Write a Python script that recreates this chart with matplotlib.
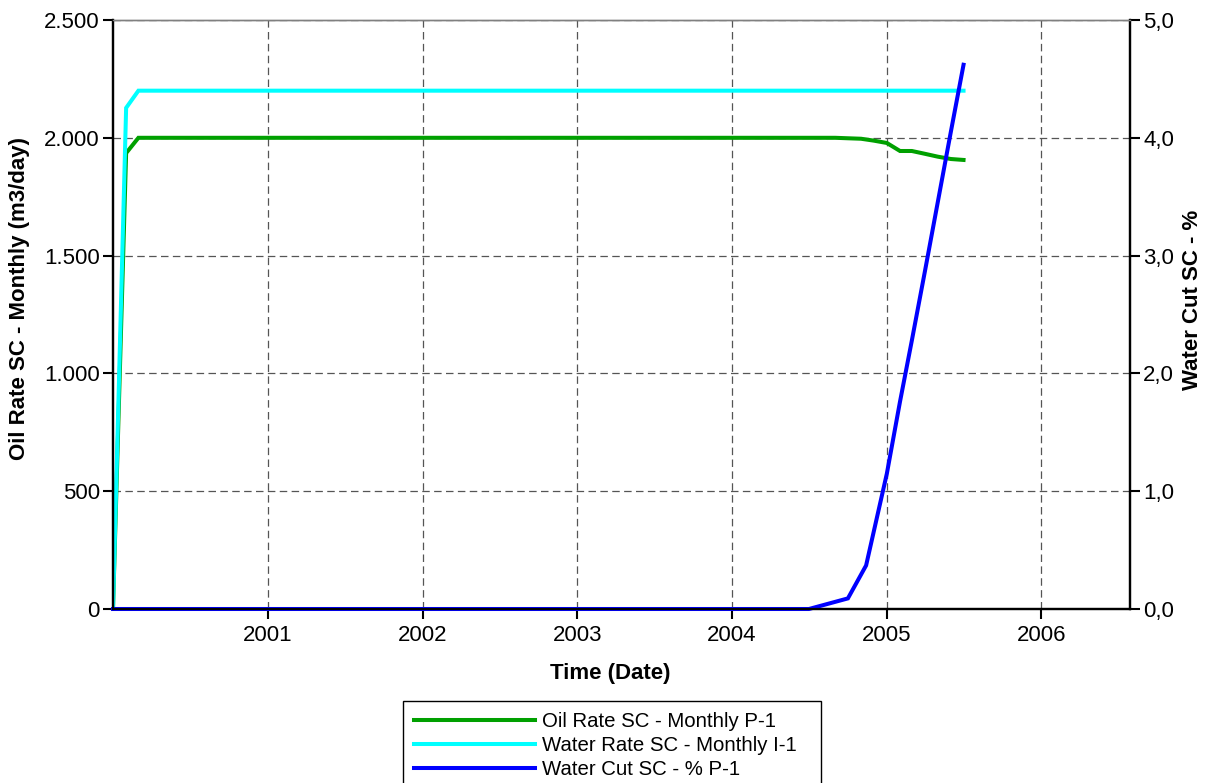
import numpy as np
import matplotlib
matplotlib.use("Agg")
import matplotlib.pyplot as plt
import matplotlib.dates as mdates
from matplotlib.ticker import FixedLocator, FuncFormatter

plt.rcParams['font.family'] = ['Liberation Sans', 'DejaVu Sans']

# Oil production rate of well P-1 (m3/day)
oil_dates = np.array(['2000-01-01', '2000-02-01', '2000-03-01', '2004-09-01',
                      '2004-10-01', '2004-11-01', '2004-12-01', '2005-01-01',
                      '2005-02-01', '2005-03-01', '2005-04-01', '2005-05-01',
                      '2005-06-01', '2005-07-01'], dtype='datetime64[D]')
oil_rate = [0, 1935, 2000, 2000, 1998, 1996, 1988, 1978,
            1944, 1944, 1932, 1920, 1910, 1906]

# Water injection rate of well I-1 (m3/day)
water_dates = np.array(['2000-01-01', '2000-02-01', '2000-03-01', '2005-07-01'],
                       dtype='datetime64[D]')
water_rate = [0, 2127, 2200, 2200]

# Water cut of well P-1 (%)
wcut_dates = np.array(['2000-01-01', '2004-07-01', '2004-10-01', '2004-11-13',
                       '2005-01-01', '2005-02-01', '2005-03-01', '2005-04-01',
                       '2005-05-01', '2005-06-01', '2005-07-01'],
                      dtype='datetime64[D]')
water_cut = [0.0, 0.0, 0.09, 0.37, 1.15, 1.76, 2.28, 2.87, 3.45, 4.05, 4.62]

year_ticks = np.array(['2001-01-01', '2002-01-01', '2003-01-01', '2004-01-01',
                       '2005-01-01', '2006-01-01'], dtype='datetime64[D]')
year_labels = ['2001', '2002', '2003', '2004', '2005', '2006']
x_range = np.array(['2000-01-01', '2006-07-29'], dtype='datetime64[D]')

rate_ticks = [0, 500, 1000, 1500, 2000, 2500]
cut_ticks = [0, 1, 2, 3, 4, 5]

FS = 16
fig = plt.figure(figsize=(12.13, 7.83), dpi=100)
ax = fig.add_axes([113 / 1213, 1 - 609 / 783, 1017 / 1213, 589 / 783])
ax2 = ax.twinx()

lw = 2.9
h1, = ax.plot(oil_dates, oil_rate, color='#00A000', lw=lw,
              label='Oil Rate SC - Monthly P-1', solid_joinstyle='miter')
h2, = ax.plot(water_dates, water_rate, color='#00FFFF', lw=lw,
              label='Water Rate SC - Monthly I-1', solid_joinstyle='miter')
h3, = ax2.plot(wcut_dates, water_cut, color='#0000FF', lw=lw,
               label='Water Cut SC - % P-1', solid_joinstyle='miter', clip_on=False)

ax.set_xlim(x_range[0], x_range[1])
ax.set_ylim(0, 2500)
ax2.set_ylim(0, 5)

ax.xaxis.set_major_locator(FixedLocator(mdates.date2num(year_ticks)))
ax.set_xticklabels(year_labels)
ax.yaxis.set_major_locator(FixedLocator(rate_ticks))
ax.yaxis.set_major_formatter(FuncFormatter(lambda v, p: f"{v:,.0f}".replace(',', '.')))
ax2.yaxis.set_major_locator(FixedLocator(cut_ticks))
ax2.yaxis.set_major_formatter(FuncFormatter(lambda v, p: f"{v:.1f}".replace('.', ',')))

ax.grid(True, color='#555555', linestyle=(0, (6, 3.5)), linewidth=0.9)
ax.set_axisbelow(True)

for a in (ax, ax2):
    a.tick_params(direction='out', length=7.5, width=1.5, labelsize=FS, pad=2)
    for side in ('left', 'right', 'bottom'):
        a.spines[side].set_linewidth(1.6)
        a.spines[side].set_color('black')
    a.spines['top'].set_color('#808080')
    a.spines['top'].set_linewidth(1.0)
ax.tick_params(axis='x', pad=4)

ax.set_xlabel('Time (Date)', fontsize=FS, fontweight='bold')
ax.set_ylabel('Oil Rate SC - Monthly (m3/day)', fontsize=FS, fontweight='bold')
ax2.set_ylabel('Water Cut SC - %', fontsize=FS, fontweight='bold')
for lab in (ax.xaxis.label, ax.yaxis.label, ax2.yaxis.label):
    lab.set_va('center')
    lab.set_ha('center')
ax.xaxis.set_label_coords((610 - 113) / 1017, (609 - 674) / 589)
ax.yaxis.set_label_coords((20 - 113) / 1017, (609 - 298) / 589)
ax2.yaxis.set_label_coords((1193 - 113) / 1017, (609 - 300) / 589)

leg = fig.legend(handles=[h1, h2, h3], loc='upper left',
                 bbox_to_anchor=(403 / 1213, 0, (821 - 403) / 1213, 1 - 701 / 783),
                 mode='expand', borderaxespad=0, fontsize=14.7, handlelength=5.93,
                 handletextpad=0.34, labelspacing=0.25, borderpad=0.55,
                 fancybox=False, framealpha=1, edgecolor='black')
leg.get_frame().set_linewidth(1.0)

fig.savefig('out.png', dpi=100)
